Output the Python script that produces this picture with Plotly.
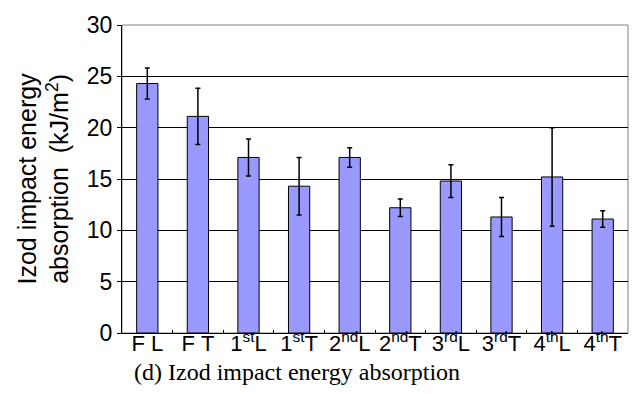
import plotly.graph_objects as go

# Izod impact energy absorption per specimen group (kJ/m^2)
categories = ["F\u00a0L", "F\u00a0T", "1<sup>st</sup>L", "1<sup>st</sup>T", "2<sup>nd</sup>L",
              "2<sup>nd</sup>T", "3<sup>rd</sup>L", "3<sup>rd</sup>T", "4<sup>th</sup>L", "4<sup>th</sup>T"]
mean_values = [24.3, 21.1, 17.1, 14.3, 17.1, 12.2, 14.8, 11.3, 15.2, 11.1]
std_values = [1.5, 2.75, 1.8, 2.8, 0.95, 0.85, 1.6, 1.9, 4.8, 0.8]
y_ticks = [0, 5, 10, 15, 20, 25, 30]

sans = "Arial, Liberation Sans, sans-serif"
serif = "Times New Roman, Liberation Serif, serif"

fig = go.Figure(
    go.Bar(
        x=categories,
        y=mean_values,
        width=0.42,
        marker=dict(color="#9999FF", line=dict(color="black", width=1)),
        error_y=dict(type="data", array=std_values, visible=True,
                     color="black", thickness=1.5, width=2.5),
    )
)

fig.update_layout(
    width=636,
    height=394,
    margin=dict(l=122, r=8, t=25, b=61),
    paper_bgcolor="white",
    plot_bgcolor="white",
    showlegend=False,
    font=dict(family=sans, size=21, color="black"),
    shapes=[
        dict(type="rect", xref="paper", yref="paper", x0=0, x1=1, y0=0, y1=1,
             line=dict(color="#808080", width=1), layer="below"),
    ],
    annotations=[
        # rotated y-axis title, two lines
        dict(text="Izod impact energy<br>absorption  (kJ/m<sup>2</sup>)",
             xref="paper", yref="paper", x=-0.157, y=0.5,
             xanchor="center", yanchor="middle", textangle=-90,
             showarrow=False, font=dict(family=sans, size=25, color="black")),
        # caption below the chart
        dict(text="(d) Izod impact energy absorption", xref="paper", yref="paper",
             x=0.346, y=0, yshift=-39, xanchor="center", yanchor="middle",
             showarrow=False, font=dict(family=serif, size=24, color="black")),
    ],
)

fig.update_xaxes(
    showline=True, linecolor="black", linewidth=1,
    ticks="inside", tickson="boundaries", ticklen=3, tickcolor="black",
    showgrid=False, tickfont=dict(family=sans, size=22), tickangle=0,
    ticklabelstandoff=-9,
)

fig.update_yaxes(
    range=[0, 30], tickvals=y_ticks,
    showline=True, linecolor="black", linewidth=1,
    ticks="outside", ticklen=4, tickcolor="black",
    showgrid=True, gridcolor="black", gridwidth=1,
    zeroline=False, tickfont=dict(family=sans, size=23),
    ticksuffix="\u2009",
)

fig.write_html("out.html")
